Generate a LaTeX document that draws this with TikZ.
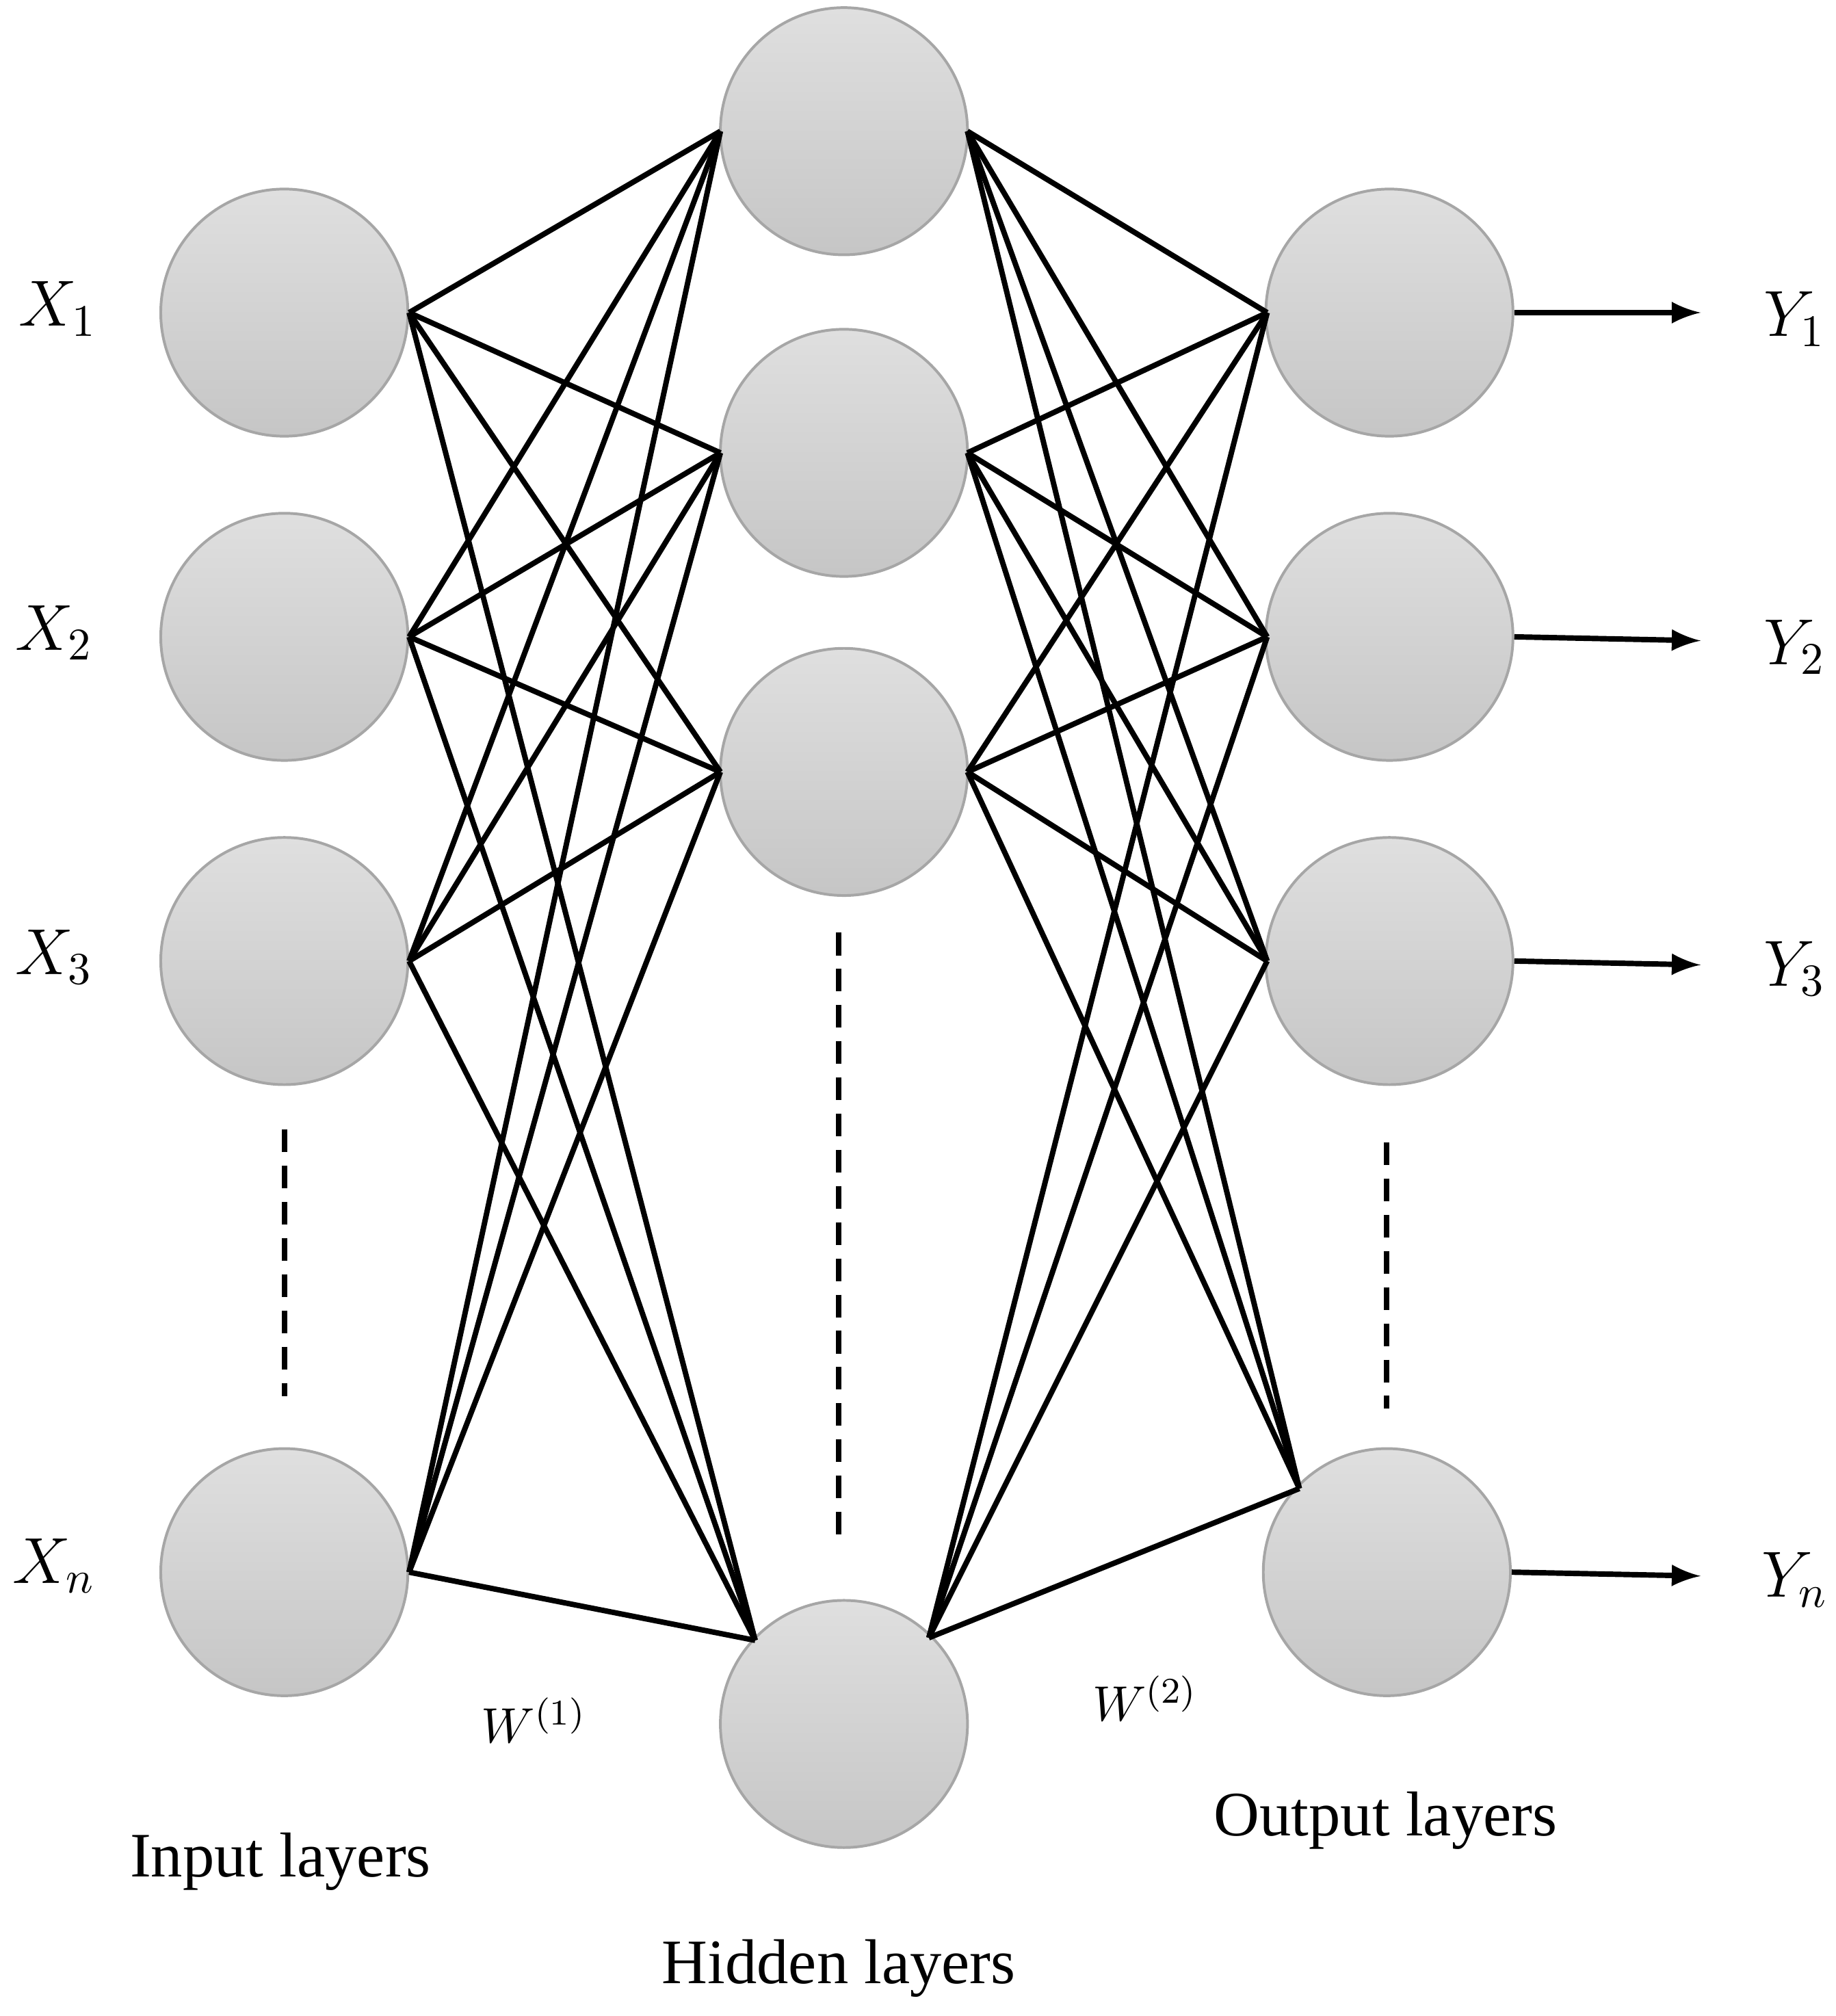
\documentclass[tikz,border=0pt]{standalone}
\usepackage{fontspec}
\setmainfont{Liberation Serif}
\begin{document}
\begin{tikzpicture}[x=0.01cm,y=-0.01cm,
  neuron/.style={circle,minimum size=1.92cm,inner sep=0pt,draw=gray!70,line width=0.6pt,top color=gray!25,bottom color=gray!45},
  conn/.style={line width=1.2pt,black},
  dots/.style={line width=1.2pt,dash pattern=on 5pt off 3pt},
  lab/.style={font=\fontsize{14}{16}\selectfont\itshape},
  txt/.style={font=\fontsize{14}{16}\selectfont}]
\useasboundingbox (0,0) rectangle (1427,1567);
% neurons
\node[neuron] (i1) at (221,243) {};
\node[neuron] (i2) at (221,495) {};
\node[neuron] (i3) at (221,747) {};
\node[neuron] (in) at (221,1222) {};
\node[neuron] (h1) at (656,102) {};
\node[neuron] (h2) at (656,352) {};
\node[neuron] (h3) at (656,600) {};
\node[neuron] (hn) at (656,1340) {};
\node[neuron] (o1) at (1080,243) {};
\node[neuron] (o2) at (1080,495) {};
\node[neuron] (o3) at (1080,747) {};
\node[neuron] (on) at (1078,1222) {};
% connection points
\coordinate (a1) at (318,243); \coordinate (a2) at (318,495);
\coordinate (a3) at (318,747); \coordinate (an) at (318,1222);
\coordinate (b1) at (560,102); \coordinate (b2) at (560,352);
\coordinate (b3) at (560,600); \coordinate (bn) at (587,1275);
\coordinate (c1) at (752,102); \coordinate (c2) at (752,352);
\coordinate (c3) at (752,600); \coordinate (cn) at (722,1273);
\coordinate (d1) at (985,243); \coordinate (d2) at (985,495);
\coordinate (d3) at (985,747); \coordinate (dn) at (1010,1157);
\foreach \i in {1,2,3,n}{\foreach \j in {1,2,3,n}{
  \draw[conn] (a\i) -- (b\j);
  \draw[conn] (c\i) -- (d\j);}}
% outputs
\coordinate (y1e) at (1322,243); \coordinate (y2e) at (1322,498);
\coordinate (y3e) at (1322,750); \coordinate (yne) at (1322,1225);
\draw[conn,-latex] (o1.east) -- (y1e);
\draw[conn,-latex] (o2.east) -- (y2e);
\draw[conn,-latex] (o3.east) -- (y3e);
\draw[conn,-latex] (on.east) -- (yne);
% dots
\coordinate (p1) at (221,878); \coordinate (p2) at (221,1085);
\coordinate (q1) at (652,725); \coordinate (q2) at (652,1200);
\coordinate (r1) at (1078,888); \coordinate (r2) at (1078,1095);
\draw[dots] (p1) -- (p2);
\draw[dots] (q1) -- (q2);
\draw[dots] (r1) -- (r2);
% labels
\node[lab] (x1) at (45,240) {$X_1$};
\node[lab] (x2) at (42,492) {$X_2$};
\node[lab] (x3) at (42,744) {$X_3$};
\node[lab] (xn) at (42,1217) {$X_n$};
\node[lab] (yl1) at (1395,248) {$Y_1$};
\node[lab] (yl2) at (1395,503) {$Y_2$};
\node[lab] (yl3) at (1395,753) {$Y_3$};
\node[lab] (yln) at (1395,1228) {$Y_n$};
\node[lab,font=\fontsize{11}{13}\selectfont] (w1) at (415,1337) {$W^{(1)}$};
\node[lab,font=\fontsize{11}{13}\selectfont] (w2) at (890,1320) {$W^{(2)}$};
\node[txt] (t1) at (218,1447) {Input layers};
\node[txt] (t2) at (652,1530) {Hidden layers};
\node[txt] (t3) at (1077,1415) {Output layers};
\end{tikzpicture}
\end{document}
